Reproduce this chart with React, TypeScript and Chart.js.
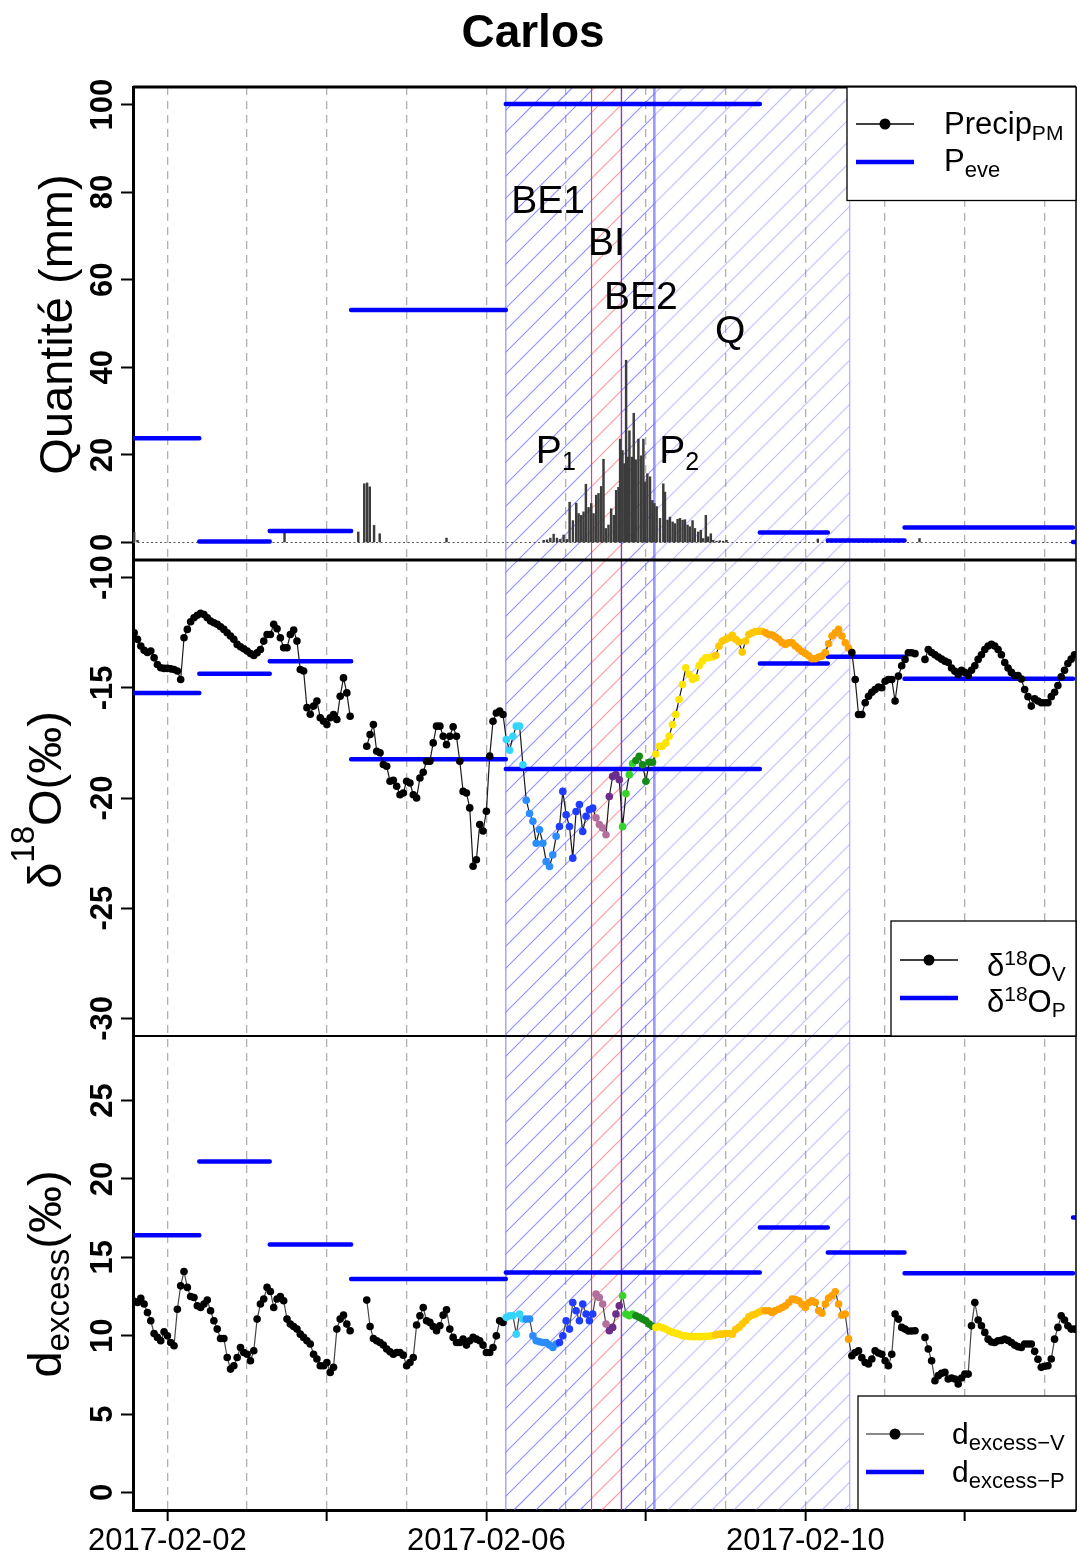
import React, { useEffect, useRef } from 'react';
import { Chart, registerables } from 'chart.js';

Chart.register(...registerables);

const FONT = '"Liberation Sans", Arial, Helvetica, sans-serif';

// x axis unit: hours since 2017-02-01 00:00
const X_MIN = 13.65;
const X_MAX = 297.45;
const DAY_TICKS = [24, 48, 72, 96, 120, 144, 168, 192, 216, 240, 264, 288];
const MAJOR_TICKS = [24, 72, 120, 168, 216, 264];
const DATE_LABELS: Record<number, string> = { 24: '2017-02-02', 120: '2017-02-06', 216: '2017-02-10' };

const Y_TICKS_P = [0, 20, 40, 60, 80, 100];
const Y_TICKS_O = [-30, -25, -20, -15, -10];
const Y_TICKS_D = [0, 5, 10, 15, 20, 25];

// Precipitation (mm)
const PRECIP_HOURS = [
  14, 15, 59.25, 81.45, 83.25, 84.1, 84.9, 86.2, 87.9, 108.0,
  137.25, 138.25, 139.25, 140.25, 141.25, 142.25, 143.25, 144.25, 145.05, 146.05,
  147.05, 147.75, 148.55, 149.25, 149.95, 150.75, 151.55, 152.25, 153.05, 153.75,
  154.55, 155.25, 155.95, 156.75, 157.55, 158.35, 159.05, 159.75, 160.25, 160.95,
  161.55, 162.05, 162.55, 163.05, 163.75, 164.35, 164.95, 165.75, 166.55, 167.25,
  167.75, 168.45, 169.25, 169.95, 170.55, 171.25, 172.25, 173.25, 173.75, 174.55,
  175.25, 176.05, 176.75, 177.55, 178.25, 179.05, 179.75, 180.55, 181.25, 182.05,
  182.75, 183.75, 184.55, 185.25, 186.05, 186.75, 187.55, 188.25, 189.25, 190.25,
  191.25, 192.25, 219.75, 250.35,
];
const PRECIP_MM = [
  2.3, 0.5, 2.3, 2.4, 13.4, 13.6, 12.7, 3.9, 2.0, 1.0,
  0.5, 0.6, 1.0, 1.9, 1.0, 0.7, 1.7, 0.7, 9.2, 5.0,
  9.0, 6.6, 6.2, 7.0, 13.3, 8.0, 8.9, 6.6, 10.8, 11.2,
  12.8, 19.0, 3.2, 4.0, 7.7, 6.2, 11.9, 12.6, 23.6, 21.0,
  18.0, 41.6, 19.5, 25.5, 19.5, 29.5, 18.9, 23.6, 19.8, 23.6,
  13.8, 15.7, 15.0, 9.6, 8.9, 8.2, 5.5, 13.4, 11.5, 5.1,
  5.8, 4.7, 4.3, 5.3, 5.5, 5.1, 5.2, 4.0, 3.6, 5.0,
  3.2, 2.4, 2.8, 0.9, 6.2, 1.3, 2.0, 0.5, 0.3, 0.4,
  0.3, 0.5, 0.8, 0.9,
];

// Precipitation events
const EVENT_START = [0, 33.6, 54.8, 79.3, 125.85, 202.3, 222.75, 245.85, 296.55];
const EVENT_END = [33.6, 54.8, 79.3, 125.85, 202.3, 222.75, 245.85, 296.55, 320];
const P_EVE = [23.8, 0.2, 2.6, 53.1, 100.1, 2.3, 0.45, 3.4, 0.1];
const D18O_P = [-15.23, -14.36, -13.79, -18.24, -18.68, -13.9, -13.59, -14.59, null];
const DEXCESS_P = [16.41, 21.11, 15.82, 13.61, 14.03, 16.9, 15.31, 13.99, 17.54];

// Vapour, hourly from hour 14
const VAPOR_START_HOUR = 14;
const D18O_V: (number | null)[] = [
  -12.5, -12.8, -13.1, -13.3, -13.4, -13.33, -13.64, -13.94, -14.09, -14.12,
  -14.12, -14.14, -14.17, -14.24, -14.62, -12.73, -12.35, -12.0, -11.82, -11.71,
  -11.62, -11.67, -11.82, -11.97, -12.05, -12.12, -12.23, -12.35, -12.5, -12.65,
  -12.8, -13.03, -13.14, -13.23, -13.33, -13.44, -13.53, -13.41, -13.26, -12.88,
  -12.58, -12.58, -12.12, -12.32, -12.73, -13.18, -13.18, -12.58, -12.38, -12.88,
  -14.17, -14.24, -15.9, -16.2, -15.83, -15.6, -16.36, -16.52, -16.67, -16.36,
  -16.21, -16.44, -15.38, -14.55, -15.23, -16.29, null, null, null, null,
  -17.65, -17.12, -16.67, -17.88, -17.95, -18.48, -18.56, -19.24, -19.2, -19.47,
  -19.85, -19.77, -19.24, -19.32, -19.85, -20.0, -19.09, -18.83, -18.33, -18.33,
  -17.5, -16.74, -16.74, -17.2, -17.58, -17.2, -16.77, -17.2, -18.33, -19.7,
  -19.77, -20.45, -23.1, -22.8, -21.2, -21.5, -20.6, -18.1, -16.52, -16.14,
  -16.06, -16.21, -17.35, -17.83, -17.2, -16.74, -16.74, -18.49, -20.1, -20.7,
  -21.06, -22.05, -21.44, -22.05, -22.88, -23.11, -22.58, -21.74, -21.29, -19.7,
  -20.76, -21.29, -22.73, -20.61, -20.3, -21.52, -20.83, -20.53, -20.46, -20.9,
  -21.2, -21.36, -21.67, -19.93, -19.02, -18.94, -19.17, -21.3, -19.8, -18.94,
  -18.44, -18.3, -18.11, -18.49, -19.24, -18.38, -18.38, -18.0, -17.65, -17.65,
  -17.5, -17.2, -16.67, -16.21, -15.53, -14.85, -14.09, -14.39, -14.62, -14.55,
  -14.0, -13.79, -13.64, -13.64, -13.6, -13.53, -13.11, -12.88, -12.8, -12.73,
  -12.62, -12.8, -12.92, -13.38, -12.88, -12.58, -12.5, -12.45, -12.43, -12.43,
  -12.5, -12.58, -12.6, -12.7, -12.8, -12.95, -13.03, -12.96, -12.96, -13.1,
  -13.23, -13.35, -13.44, -13.55, -13.68, -13.68, -13.6, -13.56, -13.4, -13.0,
  -12.65, -12.5, -12.35, -12.65, -12.96, -13.2, -13.4, -14.62, -16.21, -16.21,
  -15.68, -15.38, -15.2, -15.08, -14.96, -15.0, -14.7, -14.62, -14.62, -15.6,
  -14.47, -14.0, -13.71, -13.41, -13.41, -13.45, null, null, -13.71, -13.26,
  -13.4, -13.5, -13.6, -13.7, -13.79, -13.85, -14.1, -14.25, -14.4, -14.2,
  -14.3, -14.44, -14.2, -14.0, -13.71, -13.5, -13.26, -13.1, -13.03, -13.1,
  -13.26, -13.5, -13.85, -14.1, -14.3, -14.44, -14.44, -14.6, -15.08, -15.4,
  -15.83, -15.5, -15.6, -15.68, -15.68, -15.68, -15.4, -15.2, -14.9, -14.5,
  -14.2, -13.9, -13.7, -13.5,
];
const DEXCESS_V: (number | null)[] = [
  12.2, 12.12, 12.38, 12.02, 11.48, 10.95, 10.14, 9.89, 9.68, 10.25,
  9.99, 9.57, 9.36, 11.69, 13.18, 14.1, 13.08, 12.5, 12.44, 11.91,
  11.8, 12.02, 12.27, 11.59, 10.95, 10.42, 9.82, 9.82, 8.61, 7.87,
  8.08, 8.61, 9.25, 8.93, 8.82, 8.4, 9.04, 11.06, 12.02, 12.34,
  13.08, 12.82, 11.8, 12.34, 12.5, 12.23, 11.06, 10.74, 10.59, 10.42,
  10.1, 9.89, 9.68, 9.47, 8.82, 8.51, 8.08, 8.08, 8.29, 7.66,
  7.98, 10.42, 11.06, 11.31, 10.74, 10.32, null, null, null, null,
  12.27, 10.59, 9.82, 9.68, 9.57, 9.4, 9.15, 8.98, 8.82, 8.93,
  8.93, 8.76, 8.08, 8.29, 8.61, 10.68, 11.27, 11.8, 10.95, 10.85,
  10.59, 10.32, 10.63, 11.31, 11.65, 10.42, 9.89, 9.57, 9.57, 9.78,
  9.4, 9.68, 9.89, 9.78, 9.68, 9.4, 8.93, 8.93, 9.25, 9.99,
  10.95, 10.85, 11.17, 11.27, 11.27, 10.1, 11.38, 11.06, 11.06, 11.06,
  9.99, 9.68, 9.61, 9.57, 9.57, 9.4, 9.25, 9.47, 9.57, 9.99,
  10.95, 10.42, 12.12, 11.59, 10.95, 12.02, 11.38, 10.95, 11.38, 12.65,
  12.44, 12.02, 10.74, 10.32, 10.53, 11.38, 11.91, 12.55, 11.38, 11.27,
  11.38, 11.27, 11.17, 11.06, 10.95, 10.74, 10.6, 10.53, 10.59, 10.5,
  10.42, 10.3, 10.21, 10.15, 10.1, 10.0, 9.99, 9.95, 9.94, 9.94,
  9.94, 9.94, 9.96, 9.96, 9.99, 10.05, 10.1, 10.1, 10.14, 10.14,
  10.1, 10.4, 10.53, 10.74, 10.95, 11.2, 11.31, 11.38, 11.5, 11.59,
  11.59, 11.59, 11.48, 11.6, 11.69, 11.8, 11.91, 12.12, 12.34, 12.3,
  12.23, 12.0, 11.8, 12.1, 12.23, 12.12, 11.6, 11.44, 12.02, 12.4,
  12.55, 12.8, 12.02, 11.31, 11.38, 9.78, 8.72, 8.93, 9.04, 8.6,
  8.29, 8.19, 8.51, 9.04, 8.9, 8.82, 8.4, 8.08, 8.82, 11.38,
  11.06, 10.53, 10.42, 10.3, 10.3, 10.32, null, null, 9.89, 9.15,
  8.4, 7.13, 7.45, 7.6, 7.66, 7.24, 7.3, 7.24, 6.92, 7.3,
  7.55, 7.55, 10.63, 12.12, 11.0, 10.63, 10.21, 9.78, 9.6, 9.57,
  9.68, 9.7, 9.78, 9.7, 9.57, 9.4, 9.3, 9.25, 9.47, 9.47,
  9.47, 9.0, 8.5, 7.98, 8.05, 8.08, 8.51, 9.78, 10.53, 11.27,
  11.0, 10.63, 10.42, 10.42,
];

// Colour classes of the vapour points during the event
const PHASE_COLOURS = [
  { from: 126, to: 131, color: '#35d4ff' },
  { from: 132, to: 141, color: '#2b8cff' },
  { from: 142, to: 152, color: '#1f3dff' },
  { from: 153, to: 156, color: '#b3709c' },
  { from: 157, to: 160, color: '#6b2d8c' },
  { from: 161, to: 164, color: '#36d42a' },
  { from: 165, to: 170, color: '#168a16' },
  { from: 171, to: 188, color: '#ffe400' },
  { from: 189, to: 203, color: '#ffc800' },
  { from: 204, to: 229, color: '#ffa200' },
];

// Event phases (hatched): BE1, BI, BE2, Q
const HATCH_REGIONS = [
  { from: 125.85, to: 151.65, color: 'rgba(90,90,255,0.68)' },
  { from: 151.65, to: 160.65, color: 'rgba(255,90,90,0.62)' },
  { from: 160.65, to: 170.55, color: 'rgba(90,90,255,0.68)' },
  { from: 170.55, to: 229.35, color: 'rgba(110,110,255,0.45)' },
];
const PHASE_LINES = [
  { at: 125.85, color: 'rgba(110,110,255,0.75)', width: 1.2 },
  { at: 151.65, color: '#e0407a', width: 1.2 },
  { at: 160.65, color: '#8a3fb0', width: 1.4 },
  { at: 170.55, color: 'rgba(100,100,255,0.65)', width: 2.6 },
  { at: 229.35, color: 'rgba(130,130,255,0.65)', width: 1.2 },
];
const HATCH_STEP = 22;

const ANNOTATIONS = [
  { runs: [{ t: 'BE1', size: 39 }], h: 138.6, v: 75.2 },
  { runs: [{ t: 'BI', size: 39 }], h: 156.15, v: 65.6 },
  { runs: [{ t: 'BE2', size: 39 }], h: 166.5, v: 53.3 },
  { runs: [{ t: 'Q', size: 39 }], h: 193.35, v: 45.6 },
  { runs: [{ t: 'P', size: 39 }, { t: '1', size: 25, dy: 7 }], h: 140.9, v: 18.15 },
  { runs: [{ t: 'P', size: 39 }, { t: '2', size: 25, dy: 7 }], h: 178.0, v: 18.15 },
];

type Run = { t: string; size: number; dy?: number; bold?: boolean };

const font = (size: number, bold?: boolean) => `${bold ? 'bold ' : ''}${size}px ${FONT}`;

function drawRuns(ctx: CanvasRenderingContext2D, runs: Run[], x: number, y: number, align: 'left' | 'center' = 'left') {
  ctx.textAlign = 'left';
  ctx.textBaseline = 'alphabetic';
  let total = 0;
  for (const r of runs) {
    ctx.font = font(r.size, r.bold);
    total += ctx.measureText(r.t).width;
  }
  let cx = align === 'center' ? x - total / 2 : x;
  for (const r of runs) {
    ctx.font = font(r.size, r.bold);
    ctx.fillText(r.t, cx, y + (r.dy ?? 0));
    cx += ctx.measureText(r.t).width;
  }
}

function drawRotated(ctx: CanvasRenderingContext2D, runs: Run[], bx: number, cy: number) {
  ctx.save();
  ctx.translate(bx, cy);
  ctx.rotate(-Math.PI / 2);
  drawRuns(ctx, runs, 0, 0, 'center');
  ctx.restore();
}

function hline(ctx: CanvasRenderingContext2D, x0: number, x1: number, y: number, color: string, w: number) {
  ctx.strokeStyle = color;
  ctx.lineWidth = w;
  ctx.beginPath();
  ctx.moveTo(x0, y);
  ctx.lineTo(x1, y);
  ctx.stroke();
}

function dot(ctx: CanvasRenderingContext2D, x: number, y: number, r: number, color: string) {
  ctx.fillStyle = color;
  ctx.beginPath();
  ctx.arc(x, y, r, 0, Math.PI * 2);
  ctx.fill();
}

function box(ctx: CanvasRenderingContext2D, x0: number, y0: number, x1: number, y1: number) {
  ctx.fillStyle = '#ffffff';
  ctx.fillRect(x0, y0, x1 - x0, y1 - y0);
  ctx.strokeStyle = '#000';
  ctx.lineWidth = 1.3;
  ctx.strokeRect(x0, y0, x1 - x0, y1 - y0);
}

const overlayPlugin = {
  id: 'overlay',
  beforeDatasetsDraw(chart: any) {
    const { ctx, chartArea: a } = chart;
    const xs = chart.scales.x;
    ctx.save();
    for (const r of HATCH_REGIONS) {
      const x0 = xs.getPixelForValue(r.from);
      const x1 = xs.getPixelForValue(r.to);
      ctx.save();
      ctx.beginPath();
      ctx.rect(x0, a.top, x1 - x0, a.bottom - a.top);
      ctx.clip();
      ctx.strokeStyle = r.color;
      ctx.lineWidth = 1.2;
      ctx.beginPath();
      const kMin = Math.floor((x0 + a.top) / HATCH_STEP) - 1;
      const kMax = Math.ceil((x1 + a.bottom) / HATCH_STEP) + 1;
      for (let k = kMin; k <= kMax; k++) {
        const c = k * HATCH_STEP;
        ctx.moveTo(c - a.top, a.top);
        ctx.lineTo(c - a.bottom, a.bottom);
      }
      ctx.stroke();
      ctx.restore();
    }
    for (const l of PHASE_LINES) {
      const px = xs.getPixelForValue(l.at);
      ctx.strokeStyle = l.color;
      ctx.lineWidth = l.width;
      ctx.beginPath();
      ctx.moveTo(px, a.top);
      ctx.lineTo(px, a.bottom);
      ctx.stroke();
    }
    ctx.restore();
  },
  afterDatasetsDraw(chart: any) {
    const { ctx, chartArea: a, scales } = chart;
    const xs = scales.x;
    const yP = scales.yP;
    const yO = scales.yO;
    ctx.save();
    for (const an of ANNOTATIONS) {
      ctx.fillStyle = '#000';
      drawRuns(ctx, an.runs, xs.getPixelForValue(an.h), yP.getPixelForValue(an.v), 'center');
    }
    // panel borders
    hline(ctx, a.left, a.right, a.top, '#000', 3);
    hline(ctx, a.left, a.right, yP.bottom, '#000', 3);
    hline(ctx, a.left, a.right, yO.bottom, '#000', 2.2);
    ctx.strokeStyle = '#000';
    ctx.lineWidth = 1.5;
    ctx.beginPath();
    ctx.moveTo(a.right, a.top);
    ctx.lineTo(a.right, a.bottom);
    ctx.stroke();

    // legend 1
    const t1 = yP.top;
    box(ctx, 847, t1, a.right, t1 + 113.5);
    hline(ctx, 856, 914, t1 + 37, '#000', 1.5);
    dot(ctx, 885, t1 + 37, 5.5, '#000');
    ctx.fillStyle = '#000';
    drawRuns(ctx, [{ t: 'Precip', size: 31 }, { t: 'PM', size: 21, dy: 6 }], 944, t1 + 47);
    hline(ctx, 856, 914, t1 + 75, '#0000ff', 4.5);
    ctx.fillStyle = '#000';
    drawRuns(ctx, [{ t: 'P', size: 31 }, { t: 'eve', size: 22, dy: 6 }], 944, t1 + 84);

    // legend 2
    const b2 = yO.bottom;
    box(ctx, 891, b2 - 115, a.right, b2);
    hline(ctx, 900, 958, b2 - 76, '#000', 1.5);
    dot(ctx, 929, b2 - 76, 5.5, '#000');
    ctx.fillStyle = '#000';
    drawRuns(ctx, [{ t: 'δ', size: 31 }, { t: '18', size: 21, dy: -11 }, { t: 'O', size: 31 }, { t: 'V', size: 21, dy: 5 }], 987, b2 - 60);
    hline(ctx, 900, 958, b2 - 38, '#0000ff', 4.5);
    ctx.fillStyle = '#000';
    drawRuns(ctx, [{ t: 'δ', size: 31 }, { t: '18', size: 21, dy: -11 }, { t: 'O', size: 31 }, { t: 'P', size: 21, dy: 5 }], 987, b2 - 24);

    // legend 3
    const b3 = a.bottom;
    box(ctx, 858, b3 - 114, a.right, b3);
    hline(ctx, 866, 924, b3 - 76, '#888', 1.8);
    dot(ctx, 895, b3 - 76, 5.5, '#000');
    ctx.fillStyle = '#000';
    drawRuns(ctx, [{ t: 'd', size: 30 }, { t: 'excess−V', size: 22, dy: 6 }], 952, b3 - 66);
    hline(ctx, 866, 924, b3 - 38, '#0000ff', 4.5);
    ctx.fillStyle = '#000';
    drawRuns(ctx, [{ t: 'd', size: 30 }, { t: 'excess−P', size: 22, dy: 6 }], 952, b3 - 28);
    ctx.restore();
  },
  afterDraw(chart: any) {
    const { ctx, scales } = chart;
    ctx.save();
    ctx.fillStyle = '#000';
    const groups: [string, number[]][] = [['yP', Y_TICKS_P], ['yO', Y_TICKS_O], ['yD', Y_TICKS_D]];
    for (const [id, ticks] of groups) {
      const s = scales[id];
      for (const v of ticks) {
        drawRotated(ctx, [{ t: String(v), size: 31, bold: true }], 112, s.getPixelForValue(v));
      }
    }
    const yP = scales.yP, yO = scales.yO, yD = scales.yD;
    drawRotated(ctx, [{ t: 'Quantité (mm)', size: 47 }], 72, (yP.top + yP.bottom) / 2 + 1);
    drawRotated(ctx, [{ t: 'δ', size: 47 }, { t: '18', size: 33, dy: -27 }, { t: 'O(‰)', size: 47 }], 61, (yO.top + yO.bottom) / 2 + 2);
    drawRotated(ctx, [{ t: 'd', size: 47 }, { t: 'excess', size: 33, dy: 8 }, { t: '(‰)', size: 47 }], 61, (yD.top + yD.bottom) / 2 + 1);
    ctx.font = font(46, true);
    ctx.textAlign = 'center';
    ctx.textBaseline = 'alphabetic';
    ctx.fillText('Carlos', 533, 47);
    ctx.restore();
  },
};

function colourFor(h: number) {
  for (const p of PHASE_COLOURS) if (h >= p.from && h <= p.to) return p.color;
  return '#000000';
}

function segments(values: (number | null)[]) {
  const pts: { x: number; y: number | null }[] = [];
  values.forEach((v, i) => {
    if (v == null) return;
    pts.push({ x: EVENT_START[i], y: v }, { x: EVENT_END[i], y: v }, { x: EVENT_END[i], y: null });
  });
  return pts;
}

function yScale(min: number, max: number, ticks: number[], weight: number, stackWeight: number) {
  return {
    type: 'linear',
    position: 'left',
    stack: 'panels',
    stackWeight,
    weight,
    min,
    max,
    afterBuildTicks: (s: any) => {
      s.ticks = ticks.map((v) => ({ value: v }));
    },
    afterFit: (s: any) => {
      s.width = 133;
    },
    ticks: { display: false },
    grid: {
      display: true,
      drawOnChartArea: false,
      drawTicks: true,
      tickLength: 12,
      tickColor: '#000',
      tickWidth: 2,
      color: '#000',
    },
    border: { display: true, color: '#000', width: 3 },
  };
}

export default function App() {
  const ref = useRef<HTMLCanvasElement>(null);

  useEffect(() => {
    const canvas = ref.current;
    if (!canvas) return;
    const hours = D18O_V.map((_, i) => VAPOR_START_HOUR + i);
    const colours = hours.map(colourFor);

    const vapourStyle = {
      borderWidth: 1.2,
      tension: 0,
      pointRadius: 3.8,
      pointBorderWidth: 0,
      pointBackgroundColor: colours,
      pointBorderColor: colours,
      spanGaps: false,
    };
    const eventStyle = {
      borderColor: '#0000ff',
      borderWidth: 4.5,
      borderCapStyle: 'round',
      pointRadius: 0,
      spanGaps: false,
      clip: 0,
    };

    const chart = new Chart(canvas, {
      type: 'line',
      data: {
        datasets: [
          {
            type: 'line',
            label: 'd18O_V',
            yAxisID: 'yO',
            xAxisID: 'x',
            data: D18O_V.map((v, i) => ({ x: hours[i], y: v })),
            borderColor: '#1a1a1a',
            ...vapourStyle,
          },
          {
            type: 'line',
            label: 'dexcess_V',
            yAxisID: 'yD',
            xAxisID: 'x',
            data: DEXCESS_V.map((v, i) => ({ x: hours[i], y: v })),
            borderColor: '#444',
            ...vapourStyle,
          },
          { type: 'line', label: 'P_eve', yAxisID: 'yP', xAxisID: 'x', data: segments(P_EVE), ...eventStyle },
          { type: 'line', label: 'd18O_P', yAxisID: 'yO', xAxisID: 'x', data: segments(D18O_P), ...eventStyle },
          { type: 'line', label: 'dexcess_P', yAxisID: 'yD', xAxisID: 'x', data: segments(DEXCESS_P), ...eventStyle },
          {
            type: 'bar',
            label: 'Precip_PM',
            yAxisID: 'yP',
            xAxisID: 'x',
            data: PRECIP_HOURS.map((h, i) => ({ x: h, y: PRECIP_MM[i] })),
            backgroundColor: '#3c3c3c',
            borderWidth: 0,
            barThickness: 1.8,
          },
          {
            type: 'line',
            label: 'baseline',
            yAxisID: 'yP',
            xAxisID: 'x',
            data: [
              { x: X_MIN, y: 0 },
              { x: X_MAX, y: 0 },
            ],
            borderColor: '#555',
            borderWidth: 1.2,
            borderDash: [2, 2.5],
            pointRadius: 0,
          },
        ] as any,
      },
      options: {
        animation: false,
        responsive: false,
        maintainAspectRatio: false,
        devicePixelRatio: 1,
        events: [],
        layout: { padding: { top: 87, right: 1, left: 0, bottom: 0 } },
        plugins: {
          legend: { display: false },
          tooltip: { enabled: false },
          title: { display: false },
        },
        scales: {
          x: {
            type: 'linear',
            position: 'bottom',
            min: X_MIN,
            max: X_MAX,
            offset: false,
            afterBuildTicks: (s: any) => {
              s.ticks = DAY_TICKS.map((v) => ({ value: v }));
            },
            afterFit: (s: any) => {
              s.height = 43;
            },
            ticks: {
              autoSkip: false,
              maxRotation: 0,
              minRotation: 0,
              padding: 2,
              color: '#000',
              font: { family: FONT, size: 31 },
              callback: (v: any) => DATE_LABELS[Number(v)] ?? '',
            },
            grid: {
              display: true,
              drawOnChartArea: true,
              drawTicks: true,
              offset: false,
              tickLength: 11,
              color: '#b0b0b0',
              lineWidth: 1.3,
              tickWidth: 2,
              tickBorderDash: [],
              tickColor: (c: any) => (c.tick && MAJOR_TICKS.includes(c.tick.value) ? '#000' : 'rgba(0,0,0,0)'),
            },
            border: { display: true, color: '#000', width: 3, dash: [8, 6] },
          },
          yP: yScale(-4, 104, Y_TICKS_P, 3, 473),
          yO: yScale(-30.8, -9.2, Y_TICKS_O, 2, 476),
          yD: yScale(-1.12, 29.12, Y_TICKS_D, 1, 474),
        } as any,
      },
      plugins: [overlayPlugin],
    } as any);
    return () => chart.destroy();
  }, []);

  return (
    <div style={{ position: 'absolute', left: 0, top: 0, width: 1080, height: 1553, background: '#ffffff' }}>
      <canvas ref={ref} width={1080} height={1553} style={{ display: 'block', width: 1080, height: 1553 }} />
    </div>
  );
}
